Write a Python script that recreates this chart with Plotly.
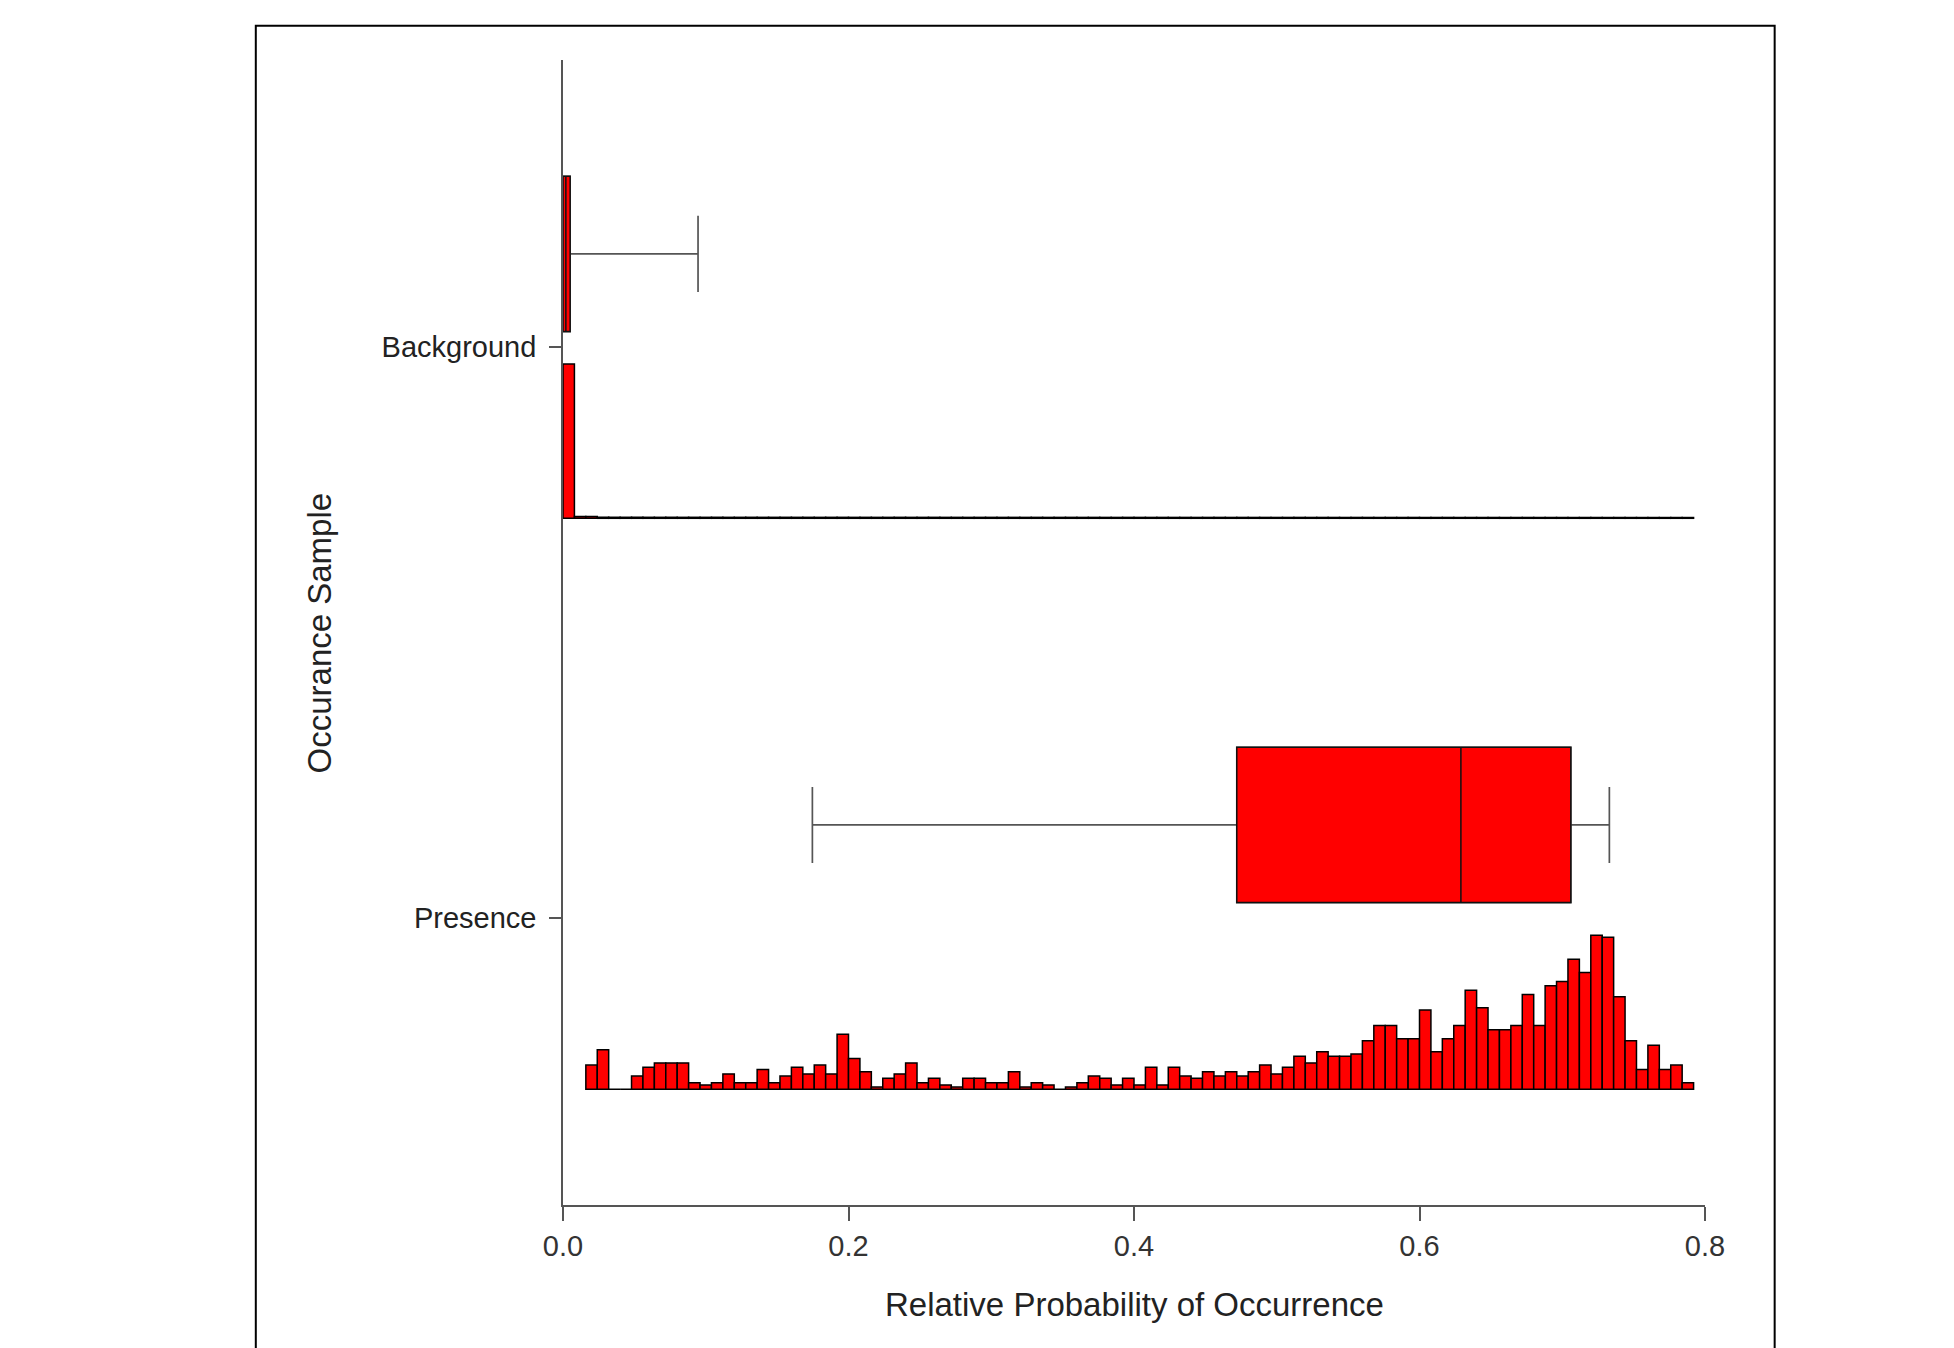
import plotly.graph_objects as go

# ---------------- data ----------------
categories = ["Presence", "Background"]
cat_pos = [1, 2]
tick_x = [0.0, 0.2, 0.4, 0.6, 0.8]
tick_x_text = ["0.0", "0.2", "0.4", "0.6", "0.8"]

bin_width = 0.008

# presence histogram starts at bin 2 (x = 0.016)
presence_first_bin = 2
presence_counts = [
    11, 18, 0, 0, 6, 10, 12, 12,
    12, 3, 2, 3, 7, 3, 3, 9, 3, 6,
    10, 7, 11, 7, 25, 14, 8, 1, 5, 7,
    12, 3, 5, 2, 1, 5, 5, 3, 3, 8,
    1, 3, 2, 0, 1, 3, 6, 5, 2, 5,
    2, 10, 2, 10, 6, 5, 8, 6, 8, 6,
    8, 11, 7, 10, 15, 12, 17, 15, 15, 16,
    22, 29, 29, 23, 23, 36, 17, 23, 29, 45,
    37, 27, 27, 29, 43, 29, 47, 49, 59, 53,
    70, 69, 42, 22, 9, 20, 9, 11, 3,
]

background_first_bin = 0
background_counts = [
    9580, 106, 104, 66, 64, 63, 65, 62, 61, 63,
    60, 62, 61, 63, 60, 61, 62, 60, 61, 62,
    60, 61, 59, 60, 61, 59, 60, 58, 59, 60,
    58, 59, 60, 58, 59, 57, 58, 59, 57, 58,
    57, 58, 56, 57, 58, 56, 57, 56, 55, 57,
    56, 55, 56, 55, 56, 54, 55, 56, 54, 55,
    54, 55, 53, 54, 55, 53, 54, 53, 52, 54,
    53, 52, 53, 52, 53, 51, 52, 53, 51, 52,
    51, 52, 50, 51, 52, 50, 51, 50, 49, 51,
    50, 49, 50, 49, 48, 49, 48, 49, 48,
]

# box statistics: [q1, median, q3, lower whisker, upper whisker]
presence_box = [0.472, 0.629, 0.706, 0.1747, 0.733]
background_box = [0.0, 0.002, 0.005, 0.0, 0.0946]

# ---------------- layout constants ----------------
HIST_OFFSET = -0.30   # histogram baseline relative to category position
HIST_H = 0.27         # max histogram height in axis units
BOX_OFFSET = 0.163    # box centre relative to category position
BOX_W = 0.272
RED = "#FF0000"

fig = go.Figure()


def add_hist(counts, first_bin, pos):
    mx = max(counts)
    base = pos + HIST_OFFSET
    centers = [bin_width * (first_bin + i + 0.5) for i in range(len(counts))]
    heights = [c / mx * HIST_H for c in counts]
    fig.add_trace(go.Bar(x=centers, y=heights, base=base, width=bin_width,
                         marker=dict(color=RED, line=dict(color="black", width=1.5)),
                         showlegend=False))


def add_box(stats, pos):
    q1, med, q3, lo, hi = stats
    y = [pos + BOX_OFFSET]
    # whiskers (grey)
    fig.add_trace(go.Box(orientation="h", y=y, q1=[q1], median=[med], q3=[q3],
                         lowerfence=[lo], upperfence=[hi], width=BOX_W,
                         whiskerwidth=0.49, boxpoints=False,
                         fillcolor=RED, line=dict(color="#555555", width=1.7),
                         showlegend=False))
    # box outline (black) on top
    fig.add_trace(go.Box(orientation="h", y=y, q1=[q1], median=[med], q3=[q3],
                         lowerfence=[q1], upperfence=[q3], width=BOX_W,
                         whiskerwidth=0.0, boxpoints=False,
                         fillcolor=RED, line=dict(color="#111111", width=1.5),
                         showlegend=False))


add_hist(presence_counts, presence_first_bin, cat_pos[0])
add_hist(background_counts, background_first_bin, cat_pos[1])
add_box(presence_box, cat_pos[0])
add_box(background_box, cat_pos[1])

FONT = "Liberation Sans, Arial, sans-serif"

fig.update_layout(
    width=1954, height=1348,
    margin=dict(l=555, r=257, t=52, b=151),
    paper_bgcolor="white", plot_bgcolor="white",
    barmode="overlay", boxmode="overlay",
    font=dict(family=FONT, size=29, color="#222222"),
    showlegend=False,
    xaxis=dict(range=[0, 0.8], tickvals=tick_x, ticktext=tick_x_text,
               showgrid=False, zeroline=False, showline=True,
               linecolor="#555555", linewidth=1.6,
               ticks="outside", ticklen=14, tickcolor="#555555", tickwidth=1.5,
               tickfont=dict(size=29, color="#333333")),
    yaxis=dict(range=[0.4974, 2.5026], tickvals=cat_pos, ticktext=categories,
               showgrid=False, zeroline=False, showline=True,
               linecolor="#555555", linewidth=1.6,
               ticks="outside", ticklen=12, tickcolor="#555555", tickwidth=1.5,
               ticklabelstandoff=7,
               tickfont=dict(size=29, color="#222222")),
    annotations=[
        dict(text="Relative Probability of Occurrence", xref="paper", yref="paper",
             x=0.5, y=-0.0873, xanchor="center", yanchor="middle", showarrow=False,
             font=dict(size=33, color="#222222")),
        dict(text="Occurance Sample", xref="paper", yref="paper",
             x=-0.2128, y=0.5, xanchor="center", yanchor="middle", showarrow=False,
             textangle=-90, font=dict(size=33, color="#222222")),
    ],
    shapes=[
        dict(type="rect", xref="paper", yref="paper",
             x0=-0.269, x1=1.061, y0=-0.2, y1=1.030,
             line=dict(color="black", width=2), fillcolor="rgba(0,0,0,0)"),
    ],
)

fig.write_html("out.html")
